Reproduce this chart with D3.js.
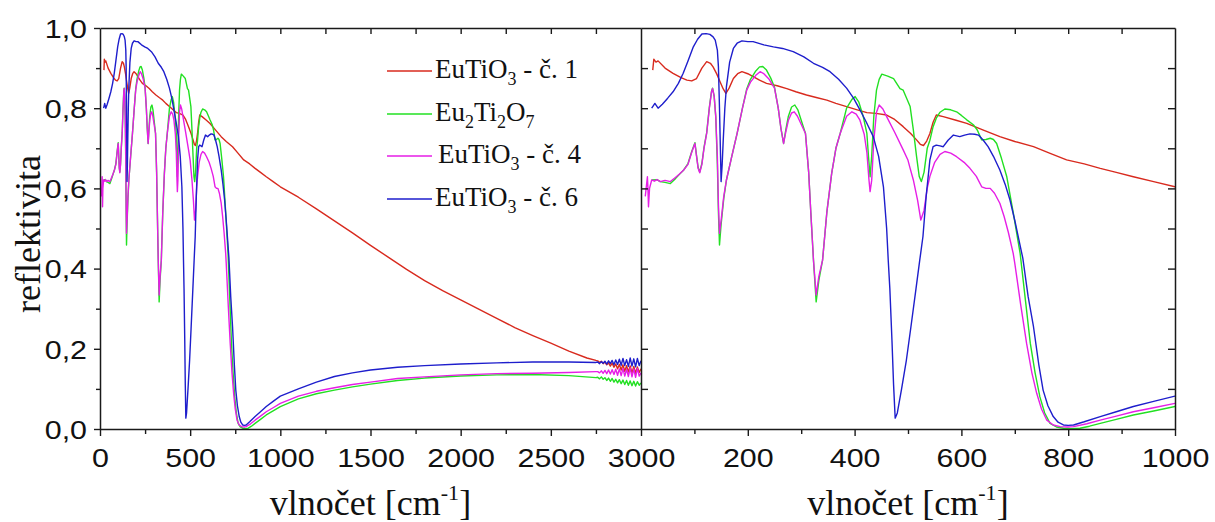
<!DOCTYPE html>
<html>
<head>
<meta charset="utf-8">
<script src="https://cdn.jsdelivr.net/npm/d3@7"></script>
<style>
  html, body { margin: 0; padding: 0; background: #fff; }
  svg { display: block; }
  .tick text { font-family: "Liberation Sans", Arial, sans-serif; font-size: 26px; fill: #111; }
  .ttl { font-family: "Liberation Serif", "Times New Roman", serif; fill: #111; }
</style>
</head>
<body>
<svg id="chart" width="1215" height="522"></svg>
<script>
// ---------------- DATA ----------------
const seriesNames = ["EuTiO3 - č. 1", "Eu2Ti2O7", "EuTiO3 - č. 4", "EuTiO3 - č. 6"];
const seriesColors = ["#d82a1e", "#22e022", "#e61ee6", "#1e1ecc"];

const xTicksLeft = [0, 500, 1000, 1500, 2000, 2500, 3000];
const xTicksRight = [200, 400, 600, 800, 1000];
const yTicks = [0, 0.2, 0.4, 0.6, 0.8, 1.0];

// EuTiO3 - č. 1  [wavenumber, reflectance]
const red = [[22,0.895],[24,0.922],[28,0.915],[32,0.918],[45,0.900],[60,0.887],[75,0.876],[86,0.870],[95,0.868],[104,0.874],[114,0.900],[123,0.916],[130,0.912],[135,0.903],[142,0.885],[148,0.866],[154,0.848],[159,0.837],[165,0.850],[173,0.874],[181,0.886],[189,0.891],[200,0.886],[210,0.879],[222,0.870],[235,0.862],[255,0.856],[273,0.849],[290,0.841],[310,0.833],[330,0.826],[348,0.820],[365,0.812],[385,0.804],[405,0.796],[423,0.789],[440,0.787],[460,0.783],[475,0.772],[491,0.754],[505,0.737],[516,0.721],[523,0.710],[529,0.707],[535,0.718],[541,0.737],[547,0.765],[553,0.783],[566,0.779],[590,0.770],[610,0.762],[640,0.746],[672,0.729],[700,0.717],[735,0.704],[765,0.688],[797,0.671],[830,0.661],[860,0.650],[890,0.640],[922,0.629],[960,0.617],[1000,0.604],[1100,0.578],[1200,0.549],[1300,0.519],[1400,0.489],[1500,0.458],[1600,0.428],[1700,0.398],[1800,0.370],[1900,0.345],[2000,0.322],[2100,0.299],[2200,0.276],[2300,0.253],[2400,0.233],[2500,0.214],[2600,0.194],[2700,0.177],[2750,0.171],[2760,0.170],[2770,0.166],[2780,0.169],[2790,0.163],[2800,0.167],[2810,0.160],[2820,0.165],[2830,0.157],[2840,0.164],[2850,0.154],[2860,0.162],[2870,0.150],[2880,0.161],[2890,0.147],[2900,0.160],[2910,0.144],[2920,0.158],[2930,0.142],[2940,0.157],[2950,0.140],[2960,0.156],[2970,0.139],[2980,0.155],[2990,0.141],[3000,0.150]];

// Eu2Ti2O7
const green = [[20,0.621],[30,0.622],[36,0.617],[45,0.615],[55,0.612],[65,0.625],[72,0.635],[80,0.646],[88,0.662],[95,0.692],[101,0.714],[104,0.682],[107,0.652],[110,0.641],[114,0.662],[118,0.702],[123,0.739],[128,0.802],[132,0.842],[134,0.850],[137,0.830],[140,0.779],[143,0.660],[145,0.540],[147,0.459],[150,0.510],[155,0.575],[160,0.621],[170,0.680],[180,0.737],[190,0.800],[198,0.848],[205,0.872],[215,0.893],[222,0.903],[228,0.904],[235,0.895],[243,0.875],[250,0.852],[257,0.800],[262,0.750],[267,0.712],[271,0.745],[276,0.780],[282,0.803],[288,0.808],[294,0.795],[300,0.770],[308,0.737],[314,0.640],[318,0.540],[323,0.421],[328,0.317],[333,0.370],[340,0.421],[348,0.540],[357,0.637],[365,0.700],[373,0.737],[385,0.800],[395,0.822],[401,0.829],[408,0.815],[416,0.780],[423,0.737],[426,0.680],[429,0.629],[432,0.680],[436,0.780],[441,0.845],[446,0.872],[451,0.885],[462,0.880],[473,0.874],[485,0.849],[491,0.845],[504,0.804],[510,0.746],[516,0.680],[521,0.630],[525,0.617],[530,0.640],[536,0.700],[541,0.720],[547,0.754],[553,0.775],[560,0.790],[569,0.798],[580,0.796],[591,0.791],[600,0.782],[610,0.771],[623,0.758],[630,0.745],[638,0.721],[646,0.722],[654,0.725],[660,0.722],[666,0.712],[675,0.675],[685,0.629],[697,0.540],[710,0.438],[720,0.320],[729,0.214],[738,0.140],[747,0.080],[756,0.040],[766,0.014],[778,0.005],[791,0.002],[805,0.001],[822,0.002],[840,0.007],[860,0.014],[890,0.024],[922,0.035],[960,0.045],[1000,0.056],[1100,0.075],[1200,0.088],[1300,0.097],[1400,0.105],[1500,0.112],[1650,0.121],[1800,0.127],[2000,0.132],[2200,0.135],[2400,0.136],[2600,0.133],[2750,0.128],[2760,0.129],[2770,0.125],[2780,0.130],[2790,0.124],[2800,0.128],[2810,0.121],[2820,0.127],[2830,0.119],[2840,0.126],[2850,0.117],[2860,0.124],[2870,0.115],[2880,0.123],[2890,0.113],[2900,0.122],[2910,0.111],[2920,0.121],[2930,0.109],[2940,0.120],[2950,0.108],[2960,0.119],[2970,0.107],[2980,0.118],[2990,0.109],[3000,0.115]];

// EuTiO3 - č. 4
const magenta = [[8,0.580],[12,0.629],[13,0.600],[14,0.554],[16,0.600],[20,0.621],[25,0.618],[30,0.622],[36,0.617],[45,0.620],[55,0.617],[65,0.628],[72,0.636],[80,0.646],[88,0.660],[95,0.690],[101,0.712],[104,0.680],[107,0.650],[110,0.639],[114,0.660],[118,0.700],[123,0.737],[128,0.800],[132,0.840],[134,0.849],[137,0.830],[140,0.779],[143,0.680],[145,0.560],[147,0.488],[150,0.520],[155,0.580],[160,0.621],[170,0.680],[180,0.737],[190,0.800],[198,0.845],[205,0.865],[215,0.882],[223,0.891],[230,0.886],[240,0.872],[250,0.850],[257,0.800],[262,0.750],[267,0.712],[271,0.740],[276,0.770],[282,0.788],[287,0.791],[293,0.780],[300,0.760],[308,0.737],[314,0.640],[318,0.540],[323,0.421],[328,0.334],[333,0.380],[340,0.421],[348,0.540],[357,0.637],[365,0.700],[373,0.737],[385,0.780],[395,0.791],[403,0.785],[410,0.770],[418,0.735],[423,0.690],[427,0.620],[429,0.592],[432,0.620],[436,0.720],[441,0.790],[446,0.808],[453,0.798],[460,0.779],[475,0.740],[491,0.696],[500,0.670],[504,0.650],[510,0.621],[518,0.570],[524,0.521],[530,0.545],[536,0.600],[541,0.630],[550,0.665],[560,0.685],[569,0.692],[580,0.688],[591,0.679],[605,0.665],[616,0.650],[628,0.630],[638,0.604],[646,0.600],[654,0.600],[662,0.588],[672,0.563],[680,0.530],[688,0.490],[697,0.438],[700,0.413],[711,0.310],[722,0.214],[732,0.140],[741,0.089],[750,0.050],[760,0.022],[772,0.010],[785,0.006],[800,0.005],[810,0.006],[835,0.013],[860,0.022],[890,0.032],[922,0.043],[960,0.053],[1000,0.064],[1100,0.082],[1200,0.094],[1300,0.103],[1400,0.111],[1500,0.117],[1650,0.126],[1800,0.130],[2000,0.135],[2200,0.138],[2400,0.139],[2600,0.141],[2750,0.143],[2760,0.143],[2770,0.140],[2780,0.145],[2790,0.139],[2800,0.146],[2810,0.138],[2820,0.147],[2830,0.137],[2840,0.148],[2850,0.136],[2860,0.149],[2870,0.134],[2880,0.150],[2890,0.133],[2900,0.151],[2910,0.132],[2920,0.149],[2930,0.131],[2940,0.152],[2950,0.130],[2960,0.150],[2970,0.129],[2980,0.151],[2990,0.132],[3000,0.140]];

// EuTiO3 - č. 6
const blue = [[20,0.800],[22,0.804],[26,0.812],[32,0.800],[40,0.810],[50,0.825],[60,0.841],[70,0.862],[79,0.887],[88,0.918],[98,0.953],[106,0.972],[114,0.985],[122,0.986],[129,0.984],[135,0.978],[139,0.970],[143,0.945],[145,0.903],[147,0.800],[148,0.738],[150,0.617],[152,0.660],[154,0.720],[157,0.800],[160,0.854],[166,0.915],[173,0.949],[180,0.962],[189,0.968],[200,0.966],[210,0.966],[230,0.958],[248,0.953],[265,0.949],[285,0.941],[305,0.928],[323,0.912],[340,0.902],[354,0.891],[370,0.872],[385,0.850],[398,0.825],[410,0.796],[422,0.765],[435,0.729],[445,0.680],[454,0.604],[460,0.500],[463,0.421],[466,0.350],[470,0.220],[473,0.110],[476,0.027],[480,0.040],[488,0.100],[497,0.172],[505,0.250],[515,0.350],[522,0.421],[528,0.480],[534,0.580],[541,0.671],[547,0.704],[553,0.708],[560,0.706],[566,0.704],[575,0.720],[585,0.733],[597,0.729],[606,0.733],[616,0.736],[625,0.735],[632,0.733],[641,0.720],[650,0.704],[660,0.680],[672,0.646],[682,0.610],[691,0.571],[700,0.520],[708,0.470],[715,0.426],[725,0.330],[735,0.255],[745,0.160],[753,0.097],[762,0.058],[772,0.031],[781,0.017],[791,0.010],[800,0.009],[810,0.010],[830,0.018],[860,0.031],[890,0.043],[922,0.056],[960,0.069],[1000,0.082],[1100,0.100],[1200,0.117],[1300,0.131],[1400,0.140],[1500,0.147],[1650,0.154],[1800,0.158],[2000,0.162],[2200,0.165],[2400,0.167],[2600,0.167],[2750,0.166],[2760,0.167],[2770,0.163],[2780,0.168],[2790,0.164],[2800,0.169],[2810,0.162],[2820,0.170],[2830,0.163],[2840,0.171],[2850,0.160],[2860,0.172],[2870,0.161],[2880,0.174],[2890,0.159],[2900,0.176],[2910,0.158],[2920,0.173],[2930,0.156],[2940,0.177],[2950,0.157],[2960,0.175],[2970,0.155],[2980,0.176],[2990,0.158],[3000,0.170]];

const seriesData = [red, green, magenta, blue];

// ---------------- LAYOUT ----------------
const svg = d3.select("#chart");
const yTop = 28, yBot = 429;
const xL0 = 100, xL1 = 641, xR0 = 641, xR1 = 1175;

const y = d3.scaleLinear().domain([0, 1]).range([yBot, yTop]);
const xL = d3.scaleLinear().domain([0, 3000]).range([xL0, xL1]);
const xR = d3.scaleLinear().domain([0, 1000]).range([xR0, xR1]);

const axisColor = "#1a1a1a";
const fmtY = d => d.toFixed(1).replace(".", ",");
const fmtX = d3.format("d");
const sx = 1.17; // horizontal stretch of tick labels as in the reference

// clip paths
const defs = svg.append("defs");
defs.append("clipPath").attr("id", "clipL").append("rect")
  .attr("x", xL0).attr("y", yTop - 2).attr("width", xL1 - xL0).attr("height", yBot - yTop + 4);
defs.append("clipPath").attr("id", "clipR").append("rect")
  .attr("x", xR0).attr("y", yTop - 2).attr("width", xR1 - xR0).attr("height", yBot - yTop + 4);

function drawLines(x, clipId) {
  const g = svg.append("g").attr("clip-path", `url(#${clipId})`);
  const line = d3.line().x(d => x(d[0])).y(d => y(d[1]));
  seriesData.forEach((s, i) => {
    g.append("path").datum(s).attr("d", line)
      .attr("fill", "none").attr("stroke", seriesColors[i])
      .attr("stroke-width", 1.4).attr("stroke-linejoin", "round");
  });
}
drawLines(xL, "clipL");
drawLines(xR, "clipR");

function styleAxis(g) {
  g.selectAll(".domain").attr("stroke", axisColor).attr("stroke-width", 1.5);
  g.selectAll(".tick line").attr("stroke", axisColor).attr("stroke-width", 1.4);
}
function stretchX(g) {
  g.selectAll(".tick text").attr("y", null).attr("dy", null)
    .attr("transform", `translate(0,38) scale(${sx},1)`);
}
function stretchY(g) {
  g.selectAll(".tick text").attr("x", null).attr("dy", "0.36em")
    .attr("transform", `translate(-13,0) scale(${sx},1)`);
}

// ---- Left panel axes ----
svg.append("g").attr("transform", `translate(0,${yBot})`)
  .call(d3.axisBottom(xL).tickValues(xTicksLeft).tickFormat(fmtX).tickSize(7).tickSizeOuter(0))
  .call(styleAxis).call(stretchX);
svg.append("g").attr("transform", `translate(0,${yBot})`)
  .call(d3.axisBottom(xL).tickValues(d3.range(250, 3000, 500)).tickSize(5).tickFormat("").tickSizeOuter(0))
  .call(styleAxis).call(g => g.select(".domain").remove());
svg.append("g").attr("transform", `translate(0,${yTop})`)
  .call(d3.axisBottom(xL).tickValues(d3.range(250, 3000, 250)).tickSize(6).tickFormat("").tickSizeOuter(0))
  .call(styleAxis);
svg.append("g").attr("transform", `translate(${xL0},0)`)
  .call(d3.axisLeft(y).tickValues(yTicks).tickFormat(fmtY).tickSize(6).tickSizeOuter(0))
  .call(styleAxis).call(stretchY);
svg.append("g").attr("transform", `translate(${xL0},0)`)
  .call(d3.axisLeft(y).tickValues([0.1, 0.3, 0.5, 0.7, 0.9]).tickSize(4).tickFormat("").tickSizeOuter(0))
  .call(styleAxis).call(g => g.select(".domain").remove());

// ---- Right panel axes ----
svg.append("g").attr("transform", `translate(0,${yBot})`)
  .call(d3.axisBottom(xR).tickValues(xTicksRight).tickFormat(fmtX).tickSize(7).tickSizeOuter(0))
  .call(styleAxis).call(stretchX);
svg.append("g").attr("transform", `translate(0,${yBot})`)
  .call(d3.axisBottom(xR).tickValues([100, 300, 500, 700, 900]).tickSize(5).tickFormat("").tickSizeOuter(0))
  .call(styleAxis).call(g => g.select(".domain").remove());
svg.append("g").attr("transform", `translate(0,${yTop})`)
  .call(d3.axisBottom(xR).tickValues(d3.range(100, 1000, 100)).tickSize(6).tickFormat("").tickSizeOuter(0))
  .call(styleAxis);
svg.append("g").attr("transform", `translate(${xR0},0)`)
  .call(d3.axisRight(y).tickValues(d3.range(1, 10).map(v => v / 10)).tickSize(7).tickFormat("").tickSizeOuter(0))
  .call(styleAxis);
svg.append("g").attr("transform", `translate(${xR1},0)`)
  .call(d3.axisLeft(y).tickValues(d3.range(1, 10).map(v => v / 10)).tickSize(7).tickFormat("").tickSizeOuter(0))
  .call(styleAxis);

// ---- Titles ----
function xTitle(cx) {
  const t = svg.append("text").attr("class", "ttl").attr("x", cx).attr("y", 515)
    .attr("text-anchor", "middle").style("font-size", "36px");
  t.append("tspan").text("vlnočet [cm");
  t.append("tspan").attr("dy", -15).style("font-size", "22px").text("-1");
  t.append("tspan").attr("dy", 15).text("]");
}
xTitle((xL0 + xL1) / 2);
xTitle((xR0 + xR1) / 2);

svg.append("text").attr("class", "ttl")
  .attr("transform", `translate(40,234) rotate(-90)`)
  .attr("text-anchor", "middle").style("font-size", "36px").text("reflektivita");

// ---- Legend ----
const legendRows = [71, 114, 156, 199];
const legendParts = [
  [["EuTiO", 0], ["3", 1], [" - č. 1", 0]],
  [["Eu", 0], ["2", 1], ["Ti", 0], ["2", 1], ["O", 0], ["7", 1]],
  [["EuTiO", 0], ["3", 1], [" - č. 4", 0]],
  [["EuTiO", 0], ["3", 1], [" - č. 6", 0]]
];
legendRows.forEach((ly, i) => {
  svg.append("line").attr("x1", 387).attr("x2", 432).attr("y1", ly).attr("y2", ly)
    .attr("stroke", seriesColors[i]).attr("stroke-width", 1.6);
  const t = svg.append("text").attr("class", "ttl").attr("x", i === 2 ? 438 : 435).attr("y", ly + 7)
    .style("font-size", "27px");
  let sub = false;
  legendParts[i].forEach(([s, isSub]) => {
    const ts = t.append("tspan").text(s);
    if (isSub && !sub) { ts.attr("dy", 7).style("font-size", "18px"); sub = true; }
    else if (isSub && sub) { ts.style("font-size", "18px"); }
    else if (!isSub && sub) { ts.attr("dy", -7); sub = false; }
  });
});
</script>
</body>
</html>
